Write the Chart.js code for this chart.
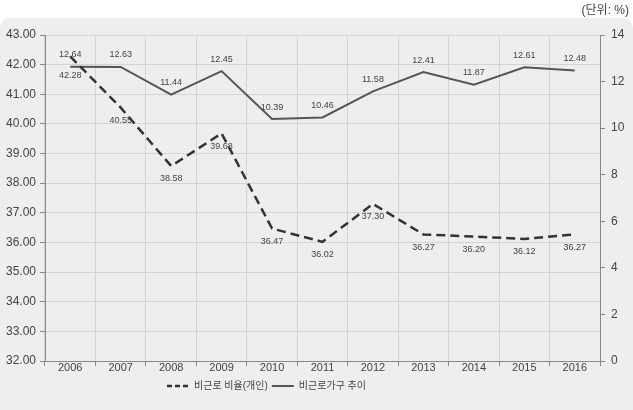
<!DOCTYPE html>
<html>
<head>
<meta charset="utf-8">
<script src="https://cdn.jsdelivr.net/npm/chart.js@4.4.0/dist/chart.umd.min.js"></script>
<style>
  html, body { margin: 0; padding: 0; background: #ffffff; }
  #wrap { position: relative; width: 633px; height: 410px; }
  #unit { position: absolute; right: 4px; top: 0px; font: 12px "Liberation Sans", "Noto Sans CJK KR", sans-serif; color: #444; }
  canvas { position: absolute; left: 0; top: 0; }
</style>
</head>
<body>
<div id="wrap">
  <canvas id="c" width="633" height="410"></canvas>
  <div id="unit">(단위: %)</div>
</div>
<script>
const categories = ['2006','2007','2008','2009','2010','2011','2012','2013','2014','2015','2016'];
const personRatio = [42.28, 40.55, 38.58, 39.68, 36.47, 36.02, 37.30, 36.27, 36.20, 36.12, 36.27];
const householdTrend = [12.64, 12.63, 11.44, 12.45, 10.39, 10.46, 11.58, 12.41, 11.87, 12.61, 12.48];
const seriesNames = ['비근로 비율(개인)', '비근로가구 추이'];
const FONT = '"Liberation Sans", "Noto Sans CJK KR", sans-serif';

const panelPlugin = {
  id: 'panel',
  beforeDraw(chart) {
    const ctx = chart.ctx;
    ctx.save();
    ctx.fillStyle = '#eeeeee';
    const x = 0, y = 18, w = chart.width, h = chart.height - 18, r = 12;
    ctx.beginPath();
    ctx.moveTo(x + r, y);
    ctx.lineTo(x + w - r, y);
    ctx.quadraticCurveTo(x + w, y, x + w, y + r);
    ctx.lineTo(x + w, y + h);
    ctx.lineTo(x, y + h);
    ctx.lineTo(x, y + r);
    ctx.quadraticCurveTo(x, y, x + r, y);
    ctx.fill();
    ctx.restore();
  }
};

const legendShift = {
  id: 'legendShift',
  afterLayout(chart) {
    const l = chart.legend;
    if (l) { l.left -= 50; l.right -= 50; }
  }
};

const labelPlugin = {
  id: 'pointLabels',
  afterDatasetsDraw(chart) {
    const ctx = chart.ctx;
    ctx.save();
    ctx.font = '9px ' + FONT;
    ctx.fillStyle = '#444';
    ctx.textAlign = 'center';
    ctx.textBaseline = 'middle';
    chart.data.datasets.forEach((ds, di) => {
      const meta = chart.getDatasetMeta(di);
      meta.data.forEach((pt, i) => {
        const v = ds.data[i];
        const dy = di === 0 ? (i === 0 ? 19 : 13) : -12;
        ctx.fillText(v.toFixed(2), pt.x, pt.y + dy);
      });
    });
    ctx.restore();
  }
};

new Chart(document.getElementById('c'), {
  type: 'line',
  data: {
    labels: categories,
    datasets: [
      {
        label: seriesNames[0],
        data: personRatio,
        yAxisID: 'yL',
        borderColor: '#333333',
        backgroundColor: '#333333',
        borderWidth: 2.5,
        borderDash: [9, 5],
        pointRadius: 0,
        tension: 0,
        fill: false
      },
      {
        label: seriesNames[1],
        data: householdTrend,
        yAxisID: 'yR',
        borderColor: '#555555',
        backgroundColor: '#555555',
        borderWidth: 2,
        pointRadius: 0,
        tension: 0,
        fill: false
      }
    ]
  },
  options: {
    responsive: false,
    animation: false,
    layout: { padding: { top: 35, left: 0, right: 0, bottom: 9 } },
    plugins: {
      legend: {
        position: 'bottom',
        labels: {
          usePointStyle: true,
          pointStyle: 'line',
          pointStyleWidth: 22,
          boxHeight: 8,
          font: { size: 10, family: FONT },
          color: '#444',
          padding: 4,
          generateLabels(chart) {
            const items = Chart.defaults.plugins.legend.labels.generateLabels(chart);
            items.forEach((it, i) => {
              it.lineDash = i === 0 ? [5, 3] : [];
              it.lineWidth = i === 0 ? 2.5 : 2;
              it.pointStyle = 'line';
            });
            return items;
          }
        }
      },
      tooltip: { enabled: false }
    },
    scales: {
      x: {
        offset: true,
        grid: { offset: true, color: '#d4d4d4', drawTicks: true, tickLength: 5, tickColor: '#888' },
        border: { color: '#888', width: 1 },
        ticks: { font: { size: 11, family: FONT }, color: '#444', padding: -5 },
        afterFit(s) { s.height = 16; }
      },
      yL: {
        position: 'left',
        min: 32, max: 43,
        ticks: { stepSize: 1, font: { size: 12, family: FONT }, color: '#444', padding: 4,
                 callback: v => Number(v).toFixed(2) },
        grid: { color: '#d4d4d4', tickLength: 5, tickColor: '#888' },
        border: { color: '#888', width: 1 },
        afterFit(s) { s.width = 45; }
      },
      yR: {
        position: 'right',
        min: 0, max: 14,
        ticks: { stepSize: 2, font: { size: 12, family: FONT }, color: '#444', padding: 6 },
        grid: { drawOnChartArea: false, tickLength: 5, tickColor: '#888' },
        border: { color: '#888', width: 1 },
        afterFit(s) { s.width = 33; }
      }
    }
  },
  plugins: [panelPlugin, legendShift, labelPlugin]
});
</script>
</body>
</html>
